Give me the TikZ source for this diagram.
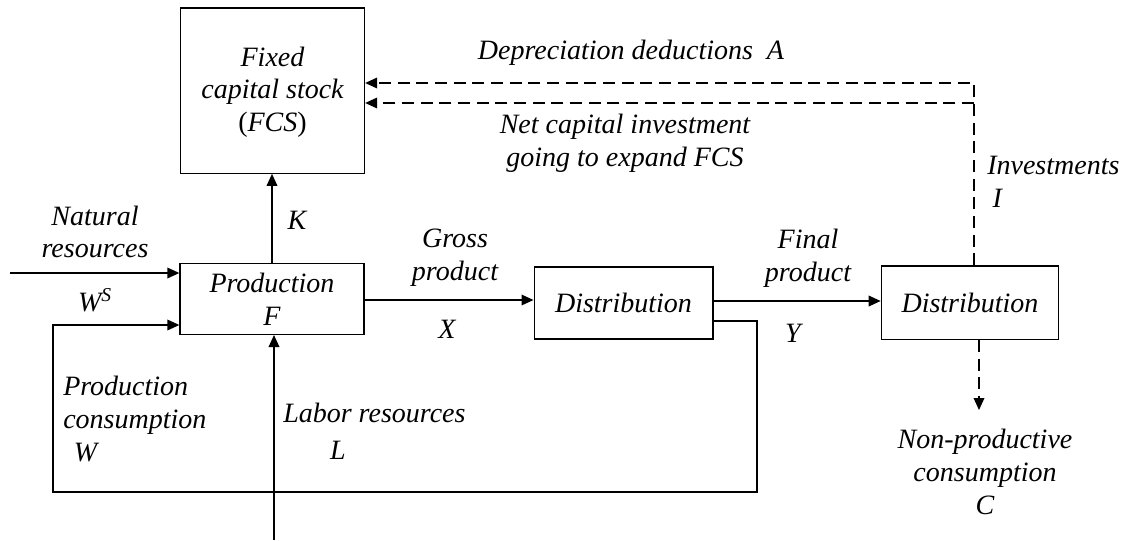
\documentclass[tikz,border=0pt]{standalone}
\usepackage{fontspec}
\setmainfont{Liberation Serif}
\usepackage{tikz}
\usetikzlibrary{arrows.meta}
\usetikzlibrary{calc}
\usetikzlibrary{positioning}

\tikzset{
  blk/.style={draw=black, line width=1pt, minimum width=#1, inner sep=0pt},
  lbl/.style={font=\itshape\fontsize{21}{24.5}\selectfont, align=center, inner sep=0pt},
  flow/.style={line width=1pt, -{Triangle[length=9pt,width=8pt]}},
  dflow/.style={flow, dash pattern=on 9pt off 5pt},
}

\begin{document}
\begin{tikzpicture}[x=0.75pt, y=-0.75pt]
  \useasboundingbox (0,0) rectangle (1127,540);
  % boxes
  \node[blk=138pt, minimum height=124pt] (FCS) at (272.5,90.5) {};
  \node[lbl] at (272.5,92) {Fixed\\capital stock\\\textup{(}FCS\textup{)}};
  \node[blk=138pt, minimum height=53pt] (Prod) at (272,299) {};
  \node[lbl] at (272,299) {Production\\F};
  \node[blk=134pt, minimum height=54pt] (Dist1) at (623.5,303) {};
  \node[lbl] at (623.5,303) {Distribution};
  \node[blk=133pt, minimum height=55pt] (Dist2) at (970,302.5) {};
  \node[lbl] at (970,302.5) {Distribution};
  % helper points
  \coordinate (Top1) at (974,83);
  \coordinate (Top2) at (974,103);
  \coordinate (Nat) at (10,273);
  \coordinate (Fb0) at (713,321);
  \coordinate (Fb1) at (757,321);
  \coordinate (Fb2) at (757,492);
  \coordinate (Fb3) at (53,492);
  \coordinate (Fb4) at (53,325);
  \coordinate (Lab) at (274,540);
  \coordinate (Gr) at (364,300);
  \coordinate (Fi) at (713,301);
  \coordinate (NP) at (979,410);
  % connectors
  \draw[flow] (Prod.north) -- (Prod.north |- FCS.south);
  \draw[flow] (Nat) -- (Nat -| Prod.west);
  \draw[flow] (Fb0) -- (Fb1) -- (Fb2) -- (Fb3) -- (Fb4) -- (Fb4 -| Prod.west);
  \draw[flow] (Lab) -- (Lab |- Prod.south);
  \draw[flow] (Gr) -- (Gr -| Dist1.west);
  \draw[flow] (Fi) -- (Fi -| Dist2.west);
  \draw[dflow] (Top1 |- Dist2.north) -- (Top1) -- (Top1 -| FCS.east);
  \draw[dflow] (Top2) -- (Top2 -| FCS.east);
  \draw[dflow] (NP |- Dist2.south) -- (NP);
  % labels
  \node[lbl] at (631,53) {Depreciation deductions\ \ A};
  \node[lbl] at (625,143) {Net capital investment\\going to expand FCS};
  \node[lbl, align=left, anchor=west] at (987,182) {Investments\\\hspace{4pt}I};
  \node[lbl] at (95,232) {Natural\\resources};
  \node[lbl] at (95,300) {W\textsuperscript{S}};
  \node[lbl] at (297,220) {K};
  \node[lbl] at (455,258) {Gross\\product};
  \node[lbl] at (447,329) {X};
  \node[lbl] at (808,258) {Final\\product};
  \node[lbl] at (793,333) {Y};
  \node[lbl, align=left, anchor=west] at (63,419) {Production\\consumption\\\hspace{8pt}W};
  \node[lbl, anchor=west] at (283,413) {Labor resources};
  \node[lbl] at (338,450) {L};
  \node[lbl] at (985,472) {Non-productive\\consumption\\C};
\end{tikzpicture}
\end{document}
